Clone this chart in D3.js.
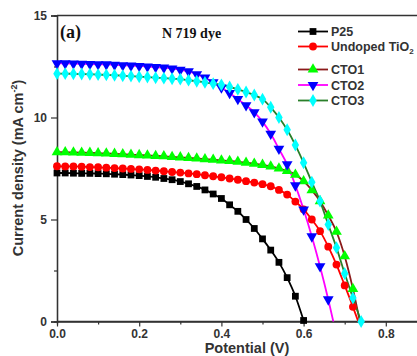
<html>
<head>
<meta charset="utf-8">
<script src="https://d3js.org/d3.v7.min.js"></script>
<style>
body { margin: 0; background: #fff; }
svg { display: block; }
</style>
</head>
<body>
<svg width="417" height="356"></svg>
<script>
// potential (V), one value every 0.02 V
var potential = [0.00,0.02,0.04,0.06,0.08,0.10,0.12,0.14,0.16,0.18,0.20,0.22,0.24,0.26,0.28,0.30,0.32,0.34,0.36,0.38,
                 0.40,0.42,0.44,0.46,0.48,0.50,0.52,0.54,0.56,0.58,0.60,0.62,0.64,0.66,0.68,0.70,0.72,0.74];

// current density (mA cm-2)
var p25 = [7.28,7.28,7.27,7.26,7.26,7.25,7.24,7.22,7.20,7.18,7.15,7.11,7.07,7.01,6.95,6.86,6.75,6.62,6.45,6.25,
           6.03,5.72,5.40,5.00,4.56,4.05,3.50,2.90,2.15,1.24,0.05];
var undoped = [7.61,7.60,7.60,7.59,7.57,7.56,7.54,7.52,7.50,7.48,7.46,7.43,7.40,7.37,7.33,7.30,7.26,7.22,7.17,7.12,
               7.07,7.01,6.95,6.88,6.81,6.73,6.63,6.45,6.22,5.88,5.50,5.00,4.43,3.67,2.79,1.77,0.72,-0.40];
var cto1 = [8.30,8.30,8.29,8.28,8.27,8.25,8.24,8.22,8.20,8.18,8.16,8.14,8.12,8.10,8.07,8.05,8.02,7.99,7.96,7.93,
            7.90,7.87,7.83,7.79,7.74,7.68,7.60,7.50,7.38,7.20,6.88,6.44,5.90,5.20,4.40,3.20,1.60,-0.30];
var cto2 = [12.65,12.65,12.64,12.63,12.62,12.61,12.60,12.58,12.56,12.54,12.52,12.50,12.47,12.44,12.40,12.34,12.26,12.12,11.95,11.72,
            11.47,11.20,10.90,10.60,10.25,9.80,9.20,8.46,7.70,6.67,5.49,4.17,2.70,1.08,-0.70];
var cto3 = [12.15,12.15,12.14,12.13,12.12,12.10,12.09,12.07,12.05,12.03,12.00,11.98,11.95,11.93,11.90,11.88,11.83,11.78,11.72,11.66,
            11.60,11.50,11.38,11.25,11.10,10.90,10.50,10.00,9.40,8.65,7.78,6.83,5.90,4.75,3.62,2.35,1.15,0.00];

var seriesNames = ["P25", "Undoped TiO", "CTO1", "CTO2", "CTO3"];
var xTicks = [0.0, 0.2, 0.4, 0.6, 0.8];
var yTicks = [0, 5, 10, 15];

var series = [
  {name: seriesNames[0], values: p25,     line: "#000000", fill: "#000000", sym: d3.symbolSquare,   size: 46, rot: 0},
  {name: seriesNames[1], values: undoped, line: "#ff0000", fill: "#ff0000", sym: d3.symbolCircle,   size: 48, rot: 0},
  {name: seriesNames[2], values: cto1,    line: "#8b1a1a", fill: "#00ff00", sym: d3.symbolTriangle, size: 50, rot: 0},
  {name: seriesNames[3], values: cto2,    line: "#ff00ff", fill: "#0000ff", sym: d3.symbolTriangle, size: 50, rot: 180},
  {name: seriesNames[4], values: cto3,    line: "#2a7f2a", fill: "#00ffff", sym: d3.symbolDiamond,  size: 48, rot: 0}
];

var svg = d3.select("svg");
var x = d3.scaleLinear().domain([0, 0.9]).range([57, 57 + 0.9 * 411]);
var y = d3.scaleLinear().domain([0, 15]).range([321.5, 15.5]);

svg.append("defs").append("clipPath").attr("id", "plotclip")
  .append("rect").attr("x", 57).attr("y", 15.5).attr("width", 380).attr("height", 306);

// frame
svg.append("line").attr("x1", 57).attr("x2", 417).attr("y1", 15.5).attr("y2", 15.5)
  .attr("stroke", "#333").attr("stroke-width", 1.3);

// axes
var ax = svg.append("g").attr("transform", "translate(0," + y(0) + ")")
  .call(d3.axisBottom(x).tickValues(xTicks).tickFormat(d3.format(".1f")).tickSize(5).tickPadding(3));
var axMinor = svg.append("g").attr("transform", "translate(0," + y(0) + ")")
  .call(d3.axisBottom(x).tickValues([0.1, 0.3, 0.5, 0.7]).tickFormat("").tickSize(3));
var ay = svg.append("g").attr("transform", "translate(" + x(0) + ",0)")
  .call(d3.axisLeft(y).tickValues(yTicks).tickSize(6).tickPadding(4));
var ayMinor = svg.append("g").attr("transform", "translate(" + x(0) + ",0)")
  .call(d3.axisLeft(y).tickValues([2.5, 7.5, 12.5]).tickFormat("").tickSize(3));

[ax, axMinor, ay, ayMinor].forEach(function(g) {
  g.select(".domain").attr("stroke", "#333").attr("stroke-width", 1.3);
  g.selectAll(".tick line").attr("stroke", "#333").attr("stroke-width", 1.2);
  g.selectAll(".tick text").attr("fill", "#333")
    .style("font-family", "Liberation Sans, Arial, sans-serif")
    .style("font-weight", "bold").style("font-size", "12px");
});
ax.select(".domain").attr("d", "M57,0H417");

// curves
var plot = svg.append("g").attr("clip-path", "url(#plotclip)");
var lineGen = d3.line()
  .x(function(d) { return x(d[0]); })
  .y(function(d) { return y(d[1]); })
  .curve(d3.curveMonotoneX);

series.forEach(function(s) {
  var pts = s.values.map(function(v, i) { return [potential[i], v]; });
  plot.append("path").datum(pts)
    .attr("fill", "none").attr("stroke", s.line).attr("stroke-width", 1.8)
    .attr("d", lineGen);
  svg.append("g").selectAll("path").data(pts.filter(function(d) { return d[1] >= 0; }))
    .enter().append("path")
    .attr("d", d3.symbol().type(s.sym).size(s.size))
    .attr("fill", s.fill)
    .attr("transform", function(d) {
      return "translate(" + x(d[0]) + "," + y(d[1]) + ") rotate(" + s.rot + ")";
    });
});

// legend
var legendY = [31.5, 46.5, 69.5, 85, 100.5];
var legend = svg.append("g");
series.forEach(function(s, i) {
  var g = legend.append("g").attr("transform", "translate(0," + legendY[i] + ")");
  g.append("line").attr("x1", 298).attr("x2", 328).attr("y1", 0).attr("y2", 0)
    .attr("stroke", s.line).attr("stroke-width", 1.8);
  g.append("path").attr("d", d3.symbol().type(s.sym).size(s.size))
    .attr("fill", s.fill).attr("transform", "translate(313,0) rotate(" + s.rot + ")");
  var t = g.append("text").attr("x", 331).attr("y", 4.5)
    .attr("fill", "#333")
    .style("font-family", "Liberation Sans, Arial, sans-serif")
    .style("font-weight", "bold").style("font-size", "12.5px")
    .text(s.name);
  if (i === 1) {
    t.append("tspan").attr("dy", 3).style("font-size", "8px").text("2");
  }
});

// panel labels
svg.append("text").attr("x", 60).attr("y", 38)
  .style("font-family", "Liberation Serif, Times New Roman, serif")
  .style("font-weight", "bold").style("font-size", "18px").attr("fill", "#111")
  .text("(a)");
svg.append("text").attr("x", 162).attr("y", 38)
  .style("font-family", "Liberation Serif, Times New Roman, serif")
  .style("font-weight", "bold").style("font-size", "14px").attr("fill", "#111")
  .text("N 719 dye");

// axis titles
var yl = svg.append("text")
  .attr("transform", "translate(23," + 168 + ") rotate(-90)")
  .attr("text-anchor", "middle").attr("fill", "#333")
  .style("font-family", "Liberation Sans, Arial, sans-serif")
  .style("font-weight", "bold").style("font-size", "14.5px")
  .text("Current density (mA cm");
yl.append("tspan").attr("dy", -6).style("font-size", "9px").text("-2");
yl.append("tspan").attr("dy", 6).text(")");

svg.append("text").attr("x", 247).attr("y", 353)
  .attr("text-anchor", "middle").attr("fill", "#333")
  .style("font-family", "Liberation Sans, Arial, sans-serif")
  .style("font-weight", "bold").style("font-size", "14.5px")
  .text("Potential (V)");
</script>
</body>
</html>
